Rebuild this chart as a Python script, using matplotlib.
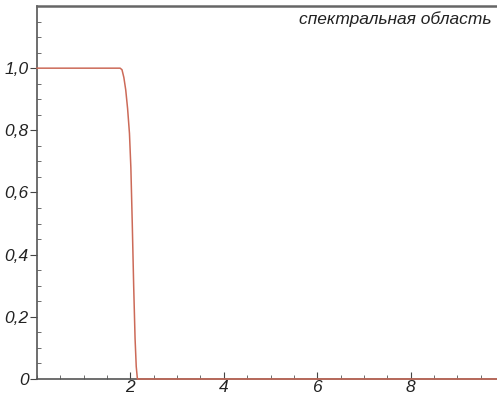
import numpy as np
import matplotlib.pyplot as plt
from matplotlib.ticker import MultipleLocator, FixedLocator

# transmission curve
x_vals = [0.0, 1.78, 1.82, 1.86, 1.90, 1.94, 1.98, 2.01, 2.04, 2.07, 2.10, 2.125, 2.15, 10.0]
y_vals = [1.0, 1.0, 0.995, 0.97, 0.93, 0.87, 0.79, 0.68, 0.50, 0.30, 0.13, 0.04, 0.0, 0.0]

x_ticks = [2, 4, 6, 8]
x_tick_labels = ["2", "4", "6", "8"]
y_ticks = [0, 0.2, 0.4, 0.6, 0.8, 1.0]
y_tick_labels = ["0", "0,2", "0,4", "0,6", "0,8", "1,0"]
title_text = "спектральная область"

plt.rcParams['font.family'] = ['Liberation Sans', 'DejaVu Sans']

fig = plt.figure(figsize=(4.97, 3.98), dpi=100)
ax = fig.add_axes([37/497, 19/398, 460/497, 373/398])

ax.plot(x_vals, y_vals, color="#cc6a58", linewidth=1.1, zorder=3, clip_on=False)

ax.set_xlim(0, 460/46.7)
ax.set_ylim(0, 1.2)

ax.xaxis.set_major_locator(FixedLocator(x_ticks))
ax.set_xticklabels(x_tick_labels, style="italic", fontsize=12.5, color="#222222")
ax.yaxis.set_major_locator(FixedLocator(y_ticks))
ax.set_yticklabels(y_tick_labels, style="italic", fontsize=12.5, color="#222222")
ax.xaxis.set_minor_locator(MultipleLocator(0.5))
ax.yaxis.set_minor_locator(MultipleLocator(0.05))

ax.tick_params(axis="both", which="major", direction="in", length=5, width=0.8, color="#444444", pad=1)
ax.tick_params(axis="both", which="minor", direction="in", length=3, width=0.6, color="#555555")
ax.tick_params(axis="y", which="major", direction="out", length=5)

for side in ["left", "bottom", "top"]:
    ax.spines[side].set_color("#555555")
    ax.spines[side].set_linewidth(1.2)
ax.spines["top"].set_linewidth(1.8)
ax.spines["top"].set_color("#666666")
ax.spines["right"].set_visible(False)

ax.text(0.988, 0.985, title_text, transform=ax.transAxes, ha="right", va="top",
        style="italic", fontsize=12.5, color="#222222")

plt.savefig("out.png", dpi=100)
